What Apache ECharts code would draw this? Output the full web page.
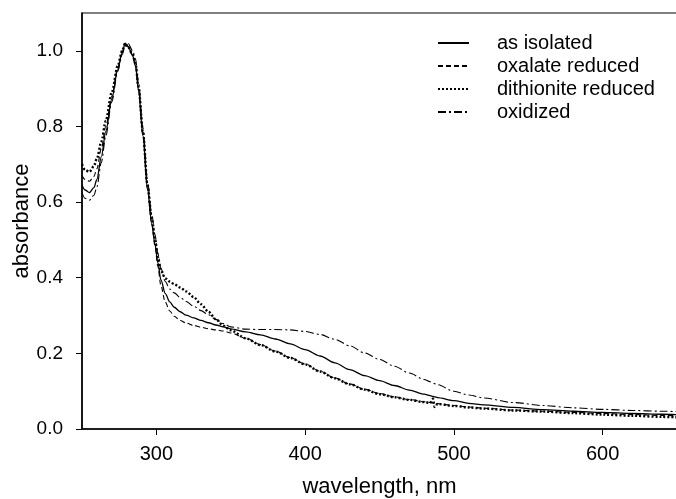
<!DOCTYPE html>
<html>
<head>
<meta charset="utf-8">
<script src="https://cdn.jsdelivr.net/npm/echarts@6/dist/echarts.min.js"></script>
<style>html,body{margin:0;padding:0;background:#fff;}#c{width:676px;height:499px;}</style>
</head>
<body>
<div id="c"></div>
<script>
// wavelengths (nm)
var wavelength = [250,252,255,258,260,263,266,270,274,277,279,281,284,286,288,291,294,297,299,301,303,306,309,312,316,320,325,330,335,340,345,350,360,370,380,390,400,410,420,430,440,450,460,470,480,484,486,487,489,500,510,520,540,560,580,600,620,640,650];
var asIsolated = [0.645,0.632,0.625,0.638,0.66,0.72,0.787,0.872,0.95,0.995,1.02,1.012,0.988,0.96,0.895,0.775,0.635,0.54,0.49,0.44,0.395,0.358,0.336,0.322,0.31,0.301,0.294,0.287,0.281,0.275,0.27,0.265,0.257,0.249,0.238,0.225,0.21,0.193,0.175,0.157,0.141,0.128,0.115,0.103,0.092,0.088,0.086,0.085,0.083,0.075,0.068,0.064,0.057,0.051,0.047,0.044,0.041,0.039,0.038];
var oxalateReduced = [0.67,0.66,0.655,0.668,0.688,0.742,0.80,0.88,0.955,0.995,1.015,1.01,0.988,0.96,0.895,0.775,0.635,0.54,0.485,0.43,0.38,0.335,0.312,0.298,0.287,0.28,0.274,0.269,0.265,0.262,0.259,0.254,0.24,0.223,0.206,0.189,0.172,0.153,0.135,0.119,0.105,0.094,0.085,0.078,0.072,0.07,0.069,0.068,0.067,0.062,0.058,0.055,0.05,0.047,0.044,0.041,0.038,0.036,0.035];
var dithioniteReduced = [0.70,0.685,0.68,0.695,0.715,0.76,0.815,0.89,0.96,1.0,1.02,1.01,0.99,0.965,0.905,0.785,0.645,0.555,0.505,0.455,0.42,0.398,0.39,0.383,0.374,0.364,0.349,0.33,0.31,0.29,0.273,0.261,0.24,0.222,0.205,0.188,0.171,0.152,0.134,0.118,0.104,0.092,0.084,0.077,0.071,0.069,0.08,0.058,0.066,0.061,0.057,0.054,0.049,0.046,0.042,0.038,0.035,0.032,0.031];
var oxidized = [0.625,0.61,0.605,0.618,0.64,0.705,0.775,0.865,0.945,0.99,1.012,1.02,1.0,0.978,0.915,0.795,0.655,0.565,0.515,0.465,0.425,0.39,0.37,0.36,0.348,0.337,0.325,0.313,0.302,0.29,0.279,0.27,0.264,0.263,0.263,0.262,0.258,0.25,0.237,0.22,0.201,0.184,0.166,0.148,0.131,0.125,0.121,0.12,0.117,0.1,0.09,0.082,0.07,0.062,0.056,0.052,0.049,0.047,0.046];
var seriesNames = ['as isolated','oxalate reduced','dithionite reduced','oxidized'];
var xTicks = [300,400,500,600];
var yTicks = [0,0.2,0.4,0.6,0.8,1.0];

function pairs(ys){ return wavelength.map(function(x,i){ return [x, ys[i]]; }); }
var FONT = 'Liberation Sans, Arial, sans-serif';
var chart = echarts.init(document.getElementById('c'), null, {renderer:'canvas'});
var styles = [
  {width:1.3, type:'solid'},
  {width:1.1, type:[5,3]},
  {width:2.4, type:[2,2]},
  {width:1.1, type:[8,3,2,3]}
];
var dataSets = [asIsolated, oxalateReduced, dithioniteReduced, oxidized];
var series = dataSets.map(function(d,i){
  return {
    name: seriesNames[i], type:'line', data: pairs(d), symbol:'none', showSymbol:false,
    smooth:0.3, smoothMonotone:'x',
    lineStyle:{color:'#000', width:styles[i].width, type:styles[i].type},
    itemStyle:{color:'#000'}, animation:false, z: 3
  };
});
chart.setOption({
  animation:false,
  backgroundColor:'#fff',
  grid:{left:82, right:-1, top:13, bottom:70, outerBoundsMode:'none', containLabel:false,
        show:true, borderColor:'#000', borderWidth:1.2},
  legend:{
    orient:'vertical', left:432, top:28, itemWidth:31, itemHeight:14, itemGap:3,
    data: seriesNames,
    itemStyle:{opacity:0},
    textStyle:{fontFamily:FONT, fontSize:20, color:'#000', padding:[0,0,0,23]}
  },
  xAxis:{
    type:'value', min:250, max:650,
    name:'wavelength, nm', nameLocation:'middle', nameGap:47, nameMoveOverlap:false,
    nameTextStyle:{fontFamily:FONT, fontSize:22, color:'#000'},
    axisLine:{show:true, lineStyle:{color:'#000', width:1.5}},
    axisTick:{show:true, length:6, inside:false, customValues:xTicks, lineStyle:{color:'#000', width:1}},
    axisLabel:{customValues:xTicks, margin:15, fontFamily:FONT, fontSize:20, color:'#000'},
    splitLine:{show:false}
  },
  yAxis:{
    type:'value', min:0, max:1.1,
    name:'absorbance', nameLocation:'middle', nameGap:49, nameMoveOverlap:false,
    nameTextStyle:{fontFamily:FONT, fontSize:22, color:'#000'},
    axisLine:{show:true, lineStyle:{color:'#000', width:1.5}},
    axisTick:{show:true, length:6, inside:false, customValues:yTicks, lineStyle:{color:'#000', width:1}},
    axisLabel:{customValues:yTicks, margin:19, fontFamily:FONT, fontSize:19, color:'#000',
      formatter:function(v){ return v.toFixed(1); }},
    splitLine:{show:false}
  },
  series: series
});
</script>
</body>
</html>
